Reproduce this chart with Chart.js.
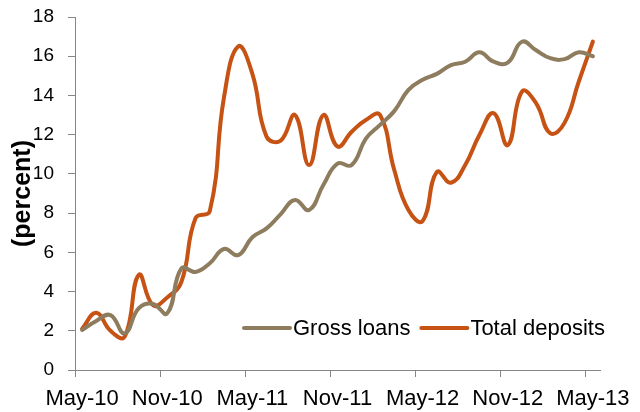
<!DOCTYPE html>
<html>
<head>
<meta charset="utf-8">
<script src="https://cdn.jsdelivr.net/npm/chart.js@4.4.0/dist/chart.umd.min.js"></script>
<style>
  html, body { margin: 0; padding: 0; background: #fff; }
  #wrap { width: 640px; height: 412px; }
</style>
</head>
<body>
<div id="wrap"><canvas id="c" width="640" height="412"></canvas></div>
<script>
// Monthly categories, May 2010 to May 2013
const months = [
  'May-10','Jun-10','Jul-10','Aug-10','Sep-10','Oct-10','Nov-10','Dec-10',
  'Jan-11','Feb-11','Mar-11','Apr-11','May-11','Jun-11','Jul-11','Aug-11',
  'Sep-11','Oct-11','Nov-11','Dec-11','Jan-12','Feb-12','Mar-12','Apr-12',
  'May-12','Jun-12','Jul-12','Aug-12','Sep-12','Oct-12','Nov-12','Dec-12',
  'Jan-13','Feb-13','Mar-13','Apr-13','May-13'
];

// Year-on-year growth, percent
const grossLoans = [
  2.04, 2.5, 2.8, 1.87, 3.15, 3.37, 2.89, 5.18, 5.0, 5.44, 6.17, 5.86,
  6.77, 7.22, 7.95, 8.67, 8.16, 9.43, 10.52, 10.45, 11.8, 12.5, 13.2, 14.28,
  14.8, 15.1, 15.55, 15.72, 16.2, 15.72, 15.67, 16.74, 16.3, 15.9, 15.85, 16.2,
  16.0
];
const totalDeposits = [
  2.1, 2.92, 2.0, 1.7, 4.85, 3.3, 3.7, 4.5, 7.75, 8.1, 13.9, 16.5,
  15.1, 11.9, 11.7, 13.0, 10.45, 13.0, 11.4, 12.15, 12.75, 13.0, 10.2, 8.16,
  7.6, 10.1, 9.55, 10.45, 11.98, 13.1, 11.47, 14.2, 13.6, 12.07, 12.6, 14.7,
  16.75
];

const seriesNames = ['Gross loans', 'Total deposits'];
const yTitle = '(percent)';
const labelEvery = 6;

const FONT = '"Liberation Sans", Arial, sans-serif';
const AXIS = '#868686';

// Legend drawn inside the plot, above the x axis
const insideLegend = {
  id: 'insideLegend',
  afterDatasetsDraw(chart) {
    const { ctx, chartArea } = chart;
    const y = chartArea.bottom - 42;
    let x = chartArea.left + 169;
    ctx.save();
    ctx.font = '22px ' + FONT;
    ctx.textBaseline = 'middle';
    ctx.textAlign = 'left';
    chart.data.datasets.forEach(ds => {
      ctx.strokeStyle = ds.borderColor;
      ctx.lineWidth = 4;
      ctx.lineCap = 'round';
      ctx.beginPath();
      ctx.moveTo(x, y);
      ctx.lineTo(x + 46, y);
      ctx.stroke();
      ctx.fillStyle = '#000';
      ctx.fillText(ds.label, x + 49, y + 1);
      x += 49 + ctx.measureText(ds.label).width + 11;
    });
    ctx.restore();
  }
};

new Chart(document.getElementById('c'), {
  type: 'line',
  data: {
    labels: months,
    datasets: [
      {
        label: seriesNames[0],
        data: grossLoans,
        borderColor: '#8E7C5E',
        borderWidth: 4,
        tension: 0.45,
        pointRadius: 0,
        borderCapStyle: 'round',
        borderJoinStyle: 'round'
      },
      {
        label: seriesNames[1],
        data: totalDeposits,
        borderColor: '#C65214',
        borderWidth: 4,
        tension: 0.45,
        pointRadius: 0,
        borderCapStyle: 'round',
        borderJoinStyle: 'round'
      }
    ]
  },
  options: {
    responsive: false,
    animation: false,
    devicePixelRatio: 1,
    layout: { padding: { top: 17, right: 40, left: 0, bottom: 0 } },
    plugins: {
      legend: { display: false },
      tooltip: { enabled: false }
    },
    scales: {
      x: {
        type: 'category',
        offset: true,
        grid: {
          offset: true,
          drawOnChartArea: false,
          drawTicks: true,
          tickLength: 7,
          color: ctx => (ctx.index % labelEvery === 0 ? AXIS : 'rgba(0,0,0,0)')
        },
        border: { color: AXIS, width: 1 },
        ticks: {
          autoSkip: false,
          maxRotation: 0,
          minRotation: 0,
          padding: 9,
          color: '#000',
          font: { family: FONT, size: 22 },
          callback: (v, i) => (i % labelEvery === 0 ? months[i] : '')
        },
        afterFit: s => { s.height = 42; }
      },
      y: {
        min: 0,
        max: 18,
        grid: {
          drawOnChartArea: false,
          drawTicks: true,
          tickLength: 7,
          color: AXIS
        },
        border: { color: AXIS, width: 1 },
        ticks: {
          stepSize: 2,
          padding: 14,
          color: '#000',
          font: { family: FONT, size: 19 }
        },
        title: {
          display: true,
          text: yTitle,
          color: '#000',
          font: { family: FONT, size: 25, weight: 'bold' },
          padding: { top: 8, bottom: 0 }
        },
        afterFit: s => {
          s.width = 75;
          s.paddingTop = 0;
          s.paddingBottom = 0;
        }
      }
    }
  },
  plugins: [insideLegend]
});
</script>
</body>
</html>
